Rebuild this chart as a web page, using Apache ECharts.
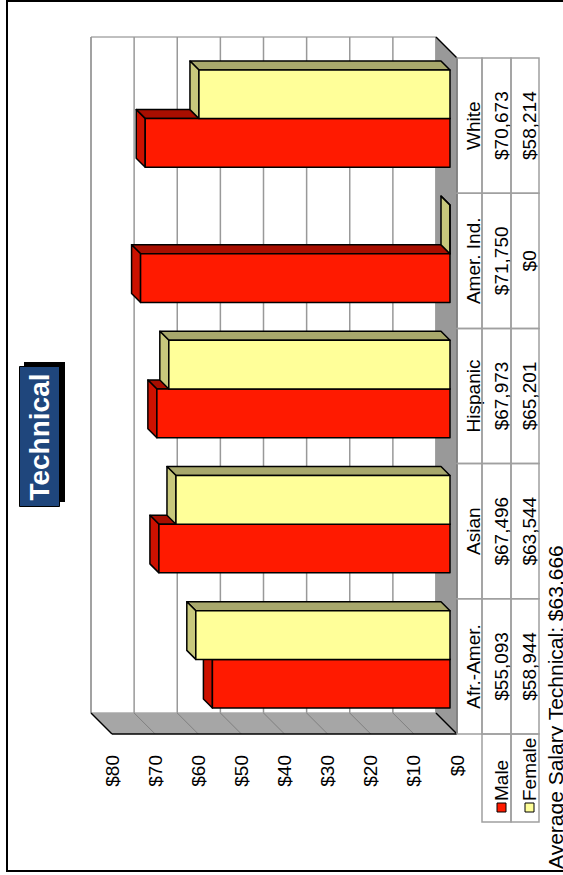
<!DOCTYPE html>
<html>
<head>
<meta charset="utf-8">
<title>Technical</title>
<script src="https://cdn.jsdelivr.net/npm/echarts@6/dist/echarts.min.js"></script>
<style>
  * { margin: 0; padding: 0; box-sizing: border-box; }
  html, body { width: 563px; height: 875px; overflow: hidden; background: #fff; }
  /* the chart is laid out landscape and turned a quarter counter-clockwise */
  #chart {
    position: absolute; left: 0; top: 0;
    width: 875px; height: 563px;
    transform-origin: 0 0;
    transform: translate(0, 875px) rotate(-90deg);
  }
</style>
</head>
<body>
<div id="chart"></div>
<script>
const categories = ['Afr.-Amer.', 'Asian', 'Hispanic', 'Amer. Ind.', 'White'];
const seriesNames = ['Male', 'Female'];
const maleSalary = [55093, 67496, 67973, 71750, 70673];
const femaleSalary = [58944, 63544, 65201, 0, 58214];
const yTicks = [0, 10000, 20000, 30000, 40000, 50000, 60000, 70000, 80000];
const titleText = 'Technical';
const footnote = 'Average Salary Technical: $63,666';

const DEPTH = 21;        // offset of back wall from the front plane
const BAR_FRONT = 7;     // bar front face behind the front plane
const BAR_DEPTH = 9;
const FONT = '"Liberation Sans", Arial, sans-serif';
const colors = [
  { front: '#ff1a00', top: '#cc1100', side: '#a80e00' },
  { front: '#ffff99', top: '#c8c87c', side: '#a8a86c' }
];

const money = v => '$' + v.toLocaleString('en-US');

const chart = echarts.init(document.getElementById('chart'), null, { renderer: 'svg' });

function renderWalls(params, api) {
  const cs = params.coordSys;
  const x0 = cs.x, x1 = cs.x + cs.width, yT = cs.y, yB = cs.y + cs.height, d = DEPTH;
  const ch = [];
  ch.push({ type: 'rect', shape: { x: x0 + d, y: yT - d, width: cs.width, height: cs.height },
    style: { fill: '#fff', stroke: '#808080', lineWidth: 1 } });
  ch.push({ type: 'polygon', shape: { points: [[x0, yT], [x0 + d, yT - d], [x0 + d, yB - d], [x0, yB]] },
    style: { fill: '#a6a6a6' } });
  yTicks.forEach(v => {
    const y = api.coord([0, v])[1];
    ch.push({ type: 'line', shape: { x1: x0 + d, y1: y - d, x2: x1 + d, y2: y - d },
      style: { stroke: '#999', lineWidth: 1.5 } });
    ch.push({ type: 'line', shape: { x1: x0, y1: y, x2: x0 + d, y2: y - d },
      style: { stroke: '#808080', lineWidth: 1 } });
  });
  ch.push({ type: 'polygon', shape: { points: [[x0, yB], [x0 + d, yB - d], [x1 + d, yB - d], [x1, yB]] },
    style: { fill: '#999' } });
  const edges = [
    [x0, yT, x0, yB], [x0, yT, x0 + d, yT - d], [x0, yB, x1, yB],
    [x0, yB, x0 + d, yB - d], [x1, yB, x1 + d, yB - d]
  ];
  edges.forEach(e => ch.push({ type: 'line', shape: { x1: e[0], y1: e[1], x2: e[2], y2: e[3] },
    style: { stroke: '#000', lineWidth: 1.5 } }));
  return { type: 'group', children: ch };
}

function barRenderer(sIdx) {
  const c = colors[sIdx];
  return function (params, api) {
    const i = api.value(0), v = api.value(1);
    const w = api.size([1, 0])[0] * 0.36;
    const top = api.coord([i, v]);
    const base = api.coord([i, 0]);
    const xl = top[0] - w + sIdx * w + BAR_FRONT;
    const xr = xl + w;
    const yt = top[1] - BAR_FRONT;
    const yb = base[1] - BAR_FRONT;
    const dd = BAR_DEPTH;
    const st = { stroke: '#000', lineWidth: 1.5, lineJoin: 'round' };
    return {
      type: 'group',
      children: [
        { type: 'polygon', shape: { points: [[xr, yt], [xr + dd, yt - dd], [xr + dd, yb - dd], [xr, yb]] },
          style: Object.assign({ fill: c.side }, st) },
        { type: 'polygon', shape: { points: [[xl, yt], [xl + dd, yt - dd], [xr + dd, yt - dd], [xr, yt]] },
          style: Object.assign({ fill: c.top }, st) },
        { type: 'rect', shape: { x: xl, y: yt, width: w, height: yb - yt },
          style: Object.assign({ fill: c.front }, st) }
      ]
    };
  };
}

function renderTable(params, api) {
  const i = api.value(0);
  const bw = api.size([1, 0])[0];
  const p = api.coord([i, 0]);
  const xl = p[0] - bw / 2;
  const y0 = p[1];
  const rows = [y0, y0 + 25, y0 + 54, y0 + 82];
  const textY = [y0 + 16, y0 + 44, y0 + 72];
  const texts = [categories[i], money(maleSalary[i]), money(femaleSalary[i])];
  const line = { stroke: '#a0a0a0', lineWidth: 1.5 };
  const ch = [];
  for (let r = 0; r < 3; r++) {
    ch.push({ type: 'rect', shape: { x: xl, y: rows[r], width: bw, height: rows[r + 1] - rows[r] },
      style: Object.assign({ fill: 'none' }, line) });
    ch.push({ type: 'text', style: { text: texts[r], x: p[0], y: textY[r], align: 'center',
      verticalAlign: 'middle', font: '19px ' + FONT, fill: '#000' } });
  }
  if (i === 0) {
    const lx = 53;
    for (let s = 0; s < 2; s++) {
      ch.push({ type: 'rect', shape: { x: lx, y: rows[s + 1], width: xl - lx, height: rows[s + 2] - rows[s + 1] },
        style: Object.assign({ fill: 'none' }, line) });
      ch.push({ type: 'rect', shape: { x: 63, y: textY[s + 1] - 4, width: 9, height: 9 },
        style: { fill: colors[s].front, stroke: '#000', lineWidth: 1 } });
      ch.push({ type: 'text', style: { text: seriesNames[s], x: 74, y: textY[s + 1], align: 'left',
        verticalAlign: 'middle', font: '19px ' + FONT, fill: '#000' } });
    }
  }
  return { type: 'group', children: ch };
}

const option = {
  animation: false,
  grid: { left: 141, top: 112, right: 58, bottom: 106 },
  xAxis: {
    type: 'category', data: categories,
    axisLine: { show: false }, axisTick: { show: false }, axisLabel: { show: false }
  },
  yAxis: {
    type: 'value', min: 0, max: 80000, interval: 10000,
    axisLine: { show: false }, axisTick: { show: false }, splitLine: { show: false },
    axisLabel: { margin: 21, color: '#000', fontSize: 19, fontFamily: FONT,
      formatter: v => '$' + v / 1000 }
  },
  graphic: [
    { type: 'rect', left: 3, top: 6, shape: { width: 870, height: 600 }, z: -10,
      style: { fill: '#fff', stroke: '#000', lineWidth: 2 } },
    { type: 'rect', left: 373, top: 24, shape: { width: 140, height: 41 },
      style: { fill: '#000' } },
    { type: 'rect', left: 368, top: 19, shape: { width: 140, height: 40 },
      style: { fill: '#1f467c', stroke: '#000', lineWidth: 1 } },
    { type: 'text', x: 438, y: 39, style: { text: titleText, align: 'center', verticalAlign: 'middle',
      font: 'bold 28px ' + FONT, fill: '#fff' } },
    { type: 'text', x: 6, y: 545, style: { text: footnote, align: 'left', verticalAlign: 'top',
      font: '21px ' + FONT, fill: '#000' } }
  ],
  series: [
    { type: 'custom', name: 'walls', clip: false, z: 1, data: [[0, 0]], renderItem: renderWalls, silent: true },
    { type: 'custom', name: seriesNames[0], clip: false, z: 2,
      data: maleSalary.map((v, i) => [i, v]), renderItem: barRenderer(0) },
    { type: 'custom', name: seriesNames[1], clip: false, z: 3,
      data: femaleSalary.map((v, i) => [i, v]), renderItem: barRenderer(1) },
    { type: 'custom', name: 'table', clip: false, z: 4,
      data: categories.map((c, i) => [i, 0]), renderItem: renderTable, silent: true }
  ]
};

chart.setOption(option);
</script>
</body>
</html>
